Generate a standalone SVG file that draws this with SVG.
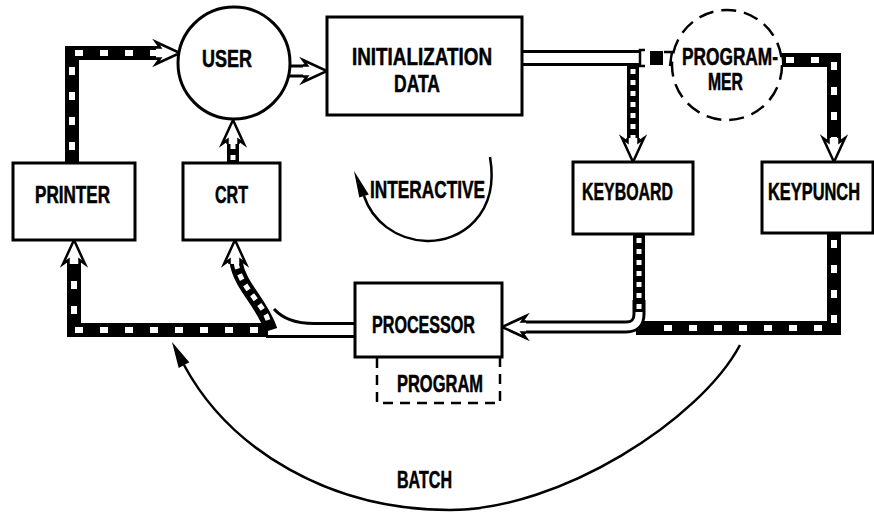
<svg xmlns="http://www.w3.org/2000/svg" width="874" height="512" viewBox="0 0 874 512">
<style>
.box{fill:#fff;stroke:#000;stroke-width:3}
.dsh{fill:#fff;stroke:#000;stroke-width:2.5;stroke-dasharray:15 8}
.pdsh{fill:none;stroke:#000;stroke-width:2.5;stroke-dasharray:10 7}
.t{font-family:"Liberation Sans",Arial,sans-serif;font-weight:bold;font-size:23px;fill:#000;stroke:#000;stroke-width:0.5}
.bar{fill:none;stroke:#000;stroke-width:14}
.bw{fill:none;stroke:#fff;stroke-width:6;stroke-dasharray:8 17}
.nb{fill:none;stroke:#000;stroke-width:12}
.dots{fill:none;stroke:#fff;stroke-width:5;stroke-dasharray:5 6}
.dbo{fill:none;stroke:#000;stroke-width:13}
.dbi{fill:none;stroke:#fff;stroke-width:7}
.ln{fill:none;stroke:#000;stroke-width:2.5}
</style>
<defs>
<path id="hd" d="M-24,-5.5 L-20,-5.5 L-24,-11 L0,0 L-24,11 L-20,5.5 L-24,5.5" fill="#fff" stroke="#000" stroke-width="2.5" stroke-linejoin="miter"/>
</defs>
<rect width="874" height="512" fill="#fff"/>
<g id="connectors">
  <!-- printer -> user -->
  <path class="bar" d="M72,163 V53 H158"/>
  <path class="bw" d="M72,150 V53 H158"/>
  <use href="#hd" transform="translate(180,53)"/>
  <!-- user -> initialization data -->
  <path class="dbo" d="M286,71 H306"/>
  <path class="dbi" d="M284,71 H306"/>
  <use href="#hd" transform="translate(327,71)"/>
  <!-- crt -> user -->
  <path class="nb" d="M233,163 V140"/>
  <path class="dots" d="M233,160 V140"/>
  <use href="#hd" transform="translate(233,120) rotate(-90)"/>
  <!-- initialization data -> keyboard / programmer -->
  <path d="M522,58 H639" stroke="#000" stroke-width="16" fill="none"/>
  <path d="M520,58 H639" stroke="#fff" stroke-width="10" fill="none"/>
  <path class="nb" d="M633,64 V141"/>
  <path class="dots" d="M633,69 V141"/>
  <use href="#hd" transform="translate(633,162) rotate(90)"/>
  <path class="ln" d="M645,50 H640 V66 H645"/>
  <rect x="650" y="51" width="13" height="14" fill="#000"/>
  <path class="ln" d="M664,52 H672 L670,66"/>
  <!-- programmer -> keypunch -->
  <path class="bar" d="M780,60 H834 V141"/>
  <path class="bw" d="M786,60 H834 V141"/>
  <use href="#hd" transform="translate(834,162) rotate(90)"/>
  <!-- keypunch -> processor -->
  <path class="bar" d="M834,233 V328 H636"/>
  <path class="bw" d="M834,240 V328 H650"/>
  <!-- keyboard -> processor -->
  <path class="dbo" d="M639,300 V314 Q639,327 626,327 H522"/>
  <path class="dbi" d="M639,300 V314 Q639,327 626,327 H522"/>
  <path class="nb" d="M639,234 V312"/>
  <path class="dots" d="M639,238 V312"/>
  <use href="#hd" transform="translate(502,327) rotate(180)"/>
  <!-- processor -> printer -->
  <path class="bar" d="M268,330 H74 V260"/>
  <path class="bw" d="M258,330 H74 V262"/>
  <use href="#hd" transform="translate(74,240) rotate(-90)"/>
  <path d="M266,336.5 H356" stroke="#000" stroke-width="3" fill="none"/>
  <path d="M356,323.5 H314 C296,323.5 283,319 274,309" stroke="#000" stroke-width="3" fill="none"/>
  <!-- processor -> crt -->
  <path d="M271,330 C262,302 240,287 236,262" stroke="#000" stroke-width="13" fill="none"/>
  <path d="M268,320 C262,302 240,287 236,262" stroke="#fff" stroke-width="5" stroke-dasharray="6 6" fill="none"/>
  <use href="#hd" transform="translate(235,240) rotate(-90)"/>
  <!-- interactive loop -->
  <path class="ln" d="M490,157 C500,215 460,242 427,241 C395,240 372,220 364,196"/>
  <polygon points="354,171 368.8,194.4 359.3,197.6" fill="#000"/>
  <!-- batch loop -->
  <path class="ln" d="M740,345 C700,420 560,510 450,510 C330,510 230,450 184,365"/>
  <polygon points="172,342 189.3,362.2 178.7,367.9" fill="#000"/>
</g>
<g id="user">
  <circle class="box" cx="234" cy="63" r="56"/>
  <text class="t" x="202" y="67" textLength="50" lengthAdjust="spacingAndGlyphs">USER</text>
</g>
<g id="initialization-data">
  <rect class="box" x="327" y="17" width="195" height="98"/>
  <text class="t" x="352" y="65" textLength="140" lengthAdjust="spacingAndGlyphs">INITIALIZATION</text>
  <text class="t" x="394" y="92" textLength="46" lengthAdjust="spacingAndGlyphs">DATA</text>
</g>
<g id="programmer">
  <circle class="dsh" cx="727" cy="65" r="55"/>
  <text class="t" x="682" y="65" textLength="96" lengthAdjust="spacingAndGlyphs">PROGRAM-</text>
  <text class="t" x="708" y="90" textLength="35" lengthAdjust="spacingAndGlyphs">MER</text>
</g>
<g id="printer">
  <rect class="box" x="13" y="163" width="122" height="77"/>
  <text class="t" x="35" y="203" textLength="75" lengthAdjust="spacingAndGlyphs">PRINTER</text>
</g>
<g id="crt">
  <rect class="box" x="183" y="163" width="97" height="77"/>
  <text class="t" x="215" y="203" textLength="33" lengthAdjust="spacingAndGlyphs">CRT</text>
</g>
<g id="interactive">
  <text class="t" x="370" y="198" textLength="115" lengthAdjust="spacingAndGlyphs">INTERACTIVE</text>
</g>
<g id="keyboard">
  <rect class="box" x="573" y="162" width="120" height="72"/>
  <text class="t" x="582" y="200" textLength="91" lengthAdjust="spacingAndGlyphs">KEYBOARD</text>
</g>
<g id="keypunch">
  <rect class="box" x="762" y="162" width="111" height="71"/>
  <text class="t" x="0" y="0" transform="translate(768,200) scale(0.713,1)">KEYPUNCH</text>
</g>
<g id="processor">
  <rect class="box" x="355" y="283" width="147" height="74"/>
  <text class="t" x="372" y="333" textLength="103" lengthAdjust="spacingAndGlyphs">PROCESSOR</text>
</g>
<g id="program">
  <path class="pdsh" d="M377,358 V403 H500 V358"/>
  <text class="t" x="397" y="392" textLength="86" lengthAdjust="spacingAndGlyphs">PROGRAM</text>
</g>
<g id="batch">
  <text class="t" x="397" y="488" textLength="55" lengthAdjust="spacingAndGlyphs">BATCH</text>
</g>
</svg>
